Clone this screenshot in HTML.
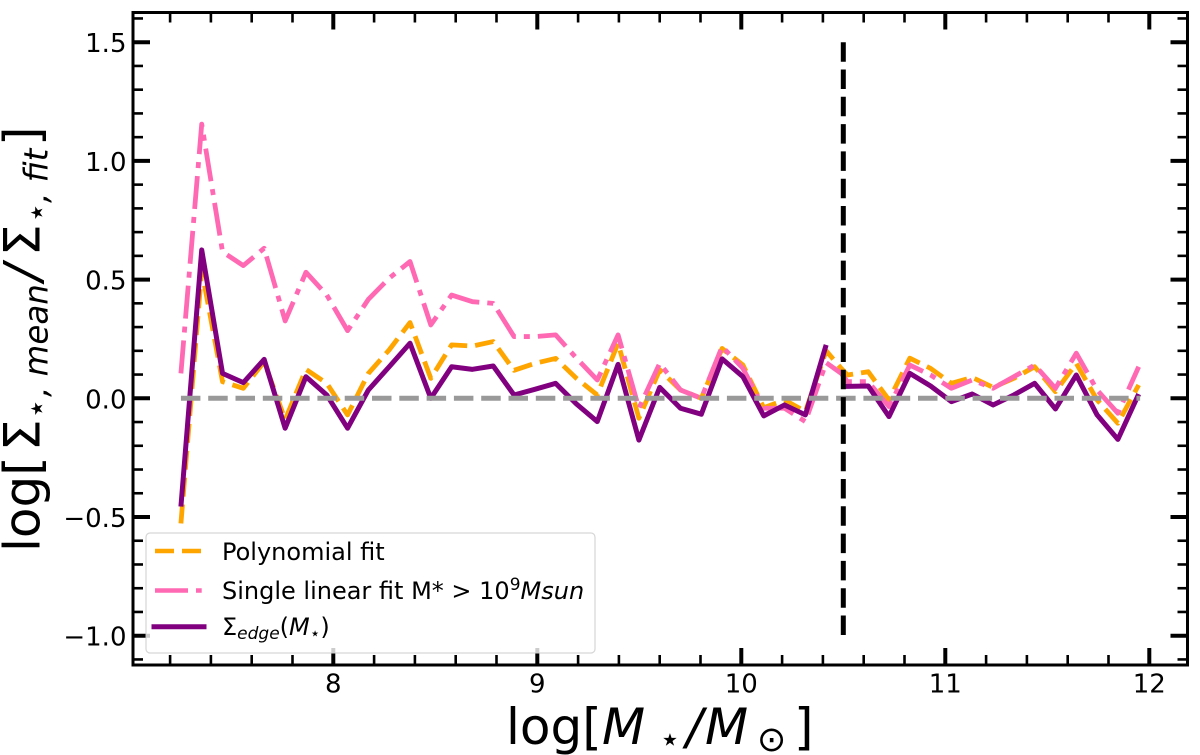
<!DOCTYPE html>
<html lang="en">
<head>
<meta charset="utf-8">
<title>Stellar surface density residuals</title>
<style>
html,body{margin:0;padding:0;background:#fff;width:1200px;height:755px;overflow:hidden}
svg{display:block}
text{font-family:"DejaVu Sans","Liberation Sans",sans-serif;fill:#000}
.it{font-style:italic}
</style>
</head>
<body>
<svg id="chart" xmlns="http://www.w3.org/2000/svg" width="1200" height="755" viewBox="0 0 1200 755">
  <g id="series-layer"></g>
  <g id="tick-layer"></g>
  <g id="tick-label-layer"></g>
  <rect x="133" y="12.5" width="1054.5" height="652.5" fill="none" stroke="#000" stroke-width="3"></rect>

  <text y="744" font-size="50"><tspan x="506">log[</tspan><tspan class="it" x="602">M</tspan><tspan x="659" y="751" font-size="35">⋆</tspan><tspan class="it" x="686" y="744">/</tspan><tspan class="it" x="705">M</tspan><tspan x="757" y="751" font-size="35">⊙</tspan><tspan x="794" y="744">]</tspan></text>

  <text transform="translate(39.5,552) rotate(-90)" font-size="50"><tspan x="0" y="0">log[</tspan><tspan x="101" y="0">Σ</tspan><tspan x="133" y="8" font-size="33">⋆</tspan><tspan class="it" x="155" y="8" font-size="32.5">, mean</tspan><tspan class="it" x="271" y="0">/</tspan><tspan x="296" y="0">Σ</tspan><tspan x="329" y="8" font-size="33">⋆</tspan><tspan class="it" x="349" y="8" font-size="32.5">, fit</tspan><tspan x="406" y="0">]</tspan></text>

  <g>
    <rect x="146" y="533" width="449" height="120" rx="4" ry="4" fill="#fff" fill-opacity="0.8" stroke="#ccc" stroke-opacity="0.8" stroke-width="1.2"></rect>
    <line x1="155" y1="551" x2="201.7" y2="551" stroke="#FFA500" stroke-width="4.6" stroke-dasharray="19 8"></line>
    <text x="222" y="560" font-size="24">Polynomial fit</text>
    <line x1="155" y1="590.5" x2="201.7" y2="590.5" stroke="#FF69B4" stroke-width="4.6" stroke-dasharray="33 8 6 8"></line>
    <text x="222" y="599" font-size="24">Single linear fit M* &gt; 10<tspan dy="-9" font-size="17">9</tspan><tspan class="it" dy="9">Msun</tspan></text>
    <line x1="154" y1="626.7" x2="204" y2="626.7" stroke="#800080" stroke-width="5" stroke-linecap="square"></line>
    <text x="222" y="635" font-size="24">Σ<tspan class="it" dy="4" font-size="17">edge</tspan><tspan dy="-4">(</tspan><tspan class="it">M</tspan><tspan dy="4" font-size="17">⋆</tspan><tspan dy="-4">)</tspan></text>
  </g>
</svg>
<script>
var massBins = [7.253,7.355,7.457,7.559,7.661,7.764,7.866,7.968,8.070,8.172,8.274,8.376,8.478,8.580,8.682,8.784,8.886,8.988,9.090,9.192,9.294,9.396,9.498,9.600,9.702,9.804,9.906,10.008,10.110,10.212,10.314,10.416,10.490,10.520,10.622,10.724,10.826,10.928,11.030,11.132,11.234,11.336,11.438,11.540,11.642,11.744,11.846,11.948];
var polynomialFit = [-0.527,0.54,0.07,0.042,0.154,-0.09,0.122,0.063,-0.07,0.105,0.204,0.319,0.084,0.225,0.22,0.239,0.118,0.147,0.168,0.084,0.014,0.232,-0.084,0.12,0.035,0,0.21,0.14,-0.04,-0.007,-0.056,0.2,0.126,0.098,0.112,-0.007,0.169,0.126,0.063,0.088,0.046,0.084,0.133,0.028,0.147,-0.007,-0.105,0.056];
var singleLinearFit = [0.105,1.155,0.617,0.559,0.632,0.326,0.531,0.435,0.285,0.417,0.506,0.576,0.309,0.435,0.407,0.4,0.26,0.26,0.267,0.169,0.077,0.267,-0.042,0.147,0.035,0,0.218,0.126,-0.042,-0.042,-0.098,0.15,0.105,0.07,0.07,-0.035,0.14,0.098,0.042,0.077,0.042,0.091,0.14,0.042,0.19,0.035,-0.063,0.133];
var sigmaEdge = [-0.456,0.625,0.105,0.066,0.164,-0.126,0.091,0.014,-0.126,0.035,0.133,0.232,0,0.133,0.122,0.136,0.014,0.038,0.063,-0.024,-0.098,0.143,-0.176,0.046,-0.042,-0.067,0.166,0.091,-0.074,-0.028,-0.07,0.225,null,0.05,0.052,-0.077,0.105,0.052,-0.014,0.018,-0.028,0.014,0.063,-0.045,0.098,-0.07,-0.173,0.018];
var sigmaEdgeRestart = [10.49, 0.05];
var referenceLevel = [7.253, 11.955, 0];
var cutoffLine = [10.5, -1, 1.5];
var xMajorTicks = [8,9,10,11,12];
var xMinorTicks = [7.2,7.4,7.6,7.8,8.2,8.4,8.6,8.8,9.2,9.4,9.6,9.8,10.2,10.4,10.6,10.8,11.2,11.4,11.6,11.8,12.2];
var yMajorTicks = [-1,-0.5,0,0.5,1,1.5];
var yMajorLabels = ['\u22121.0','\u22120.5','0.0','0.5','1.0','1.5'];
var yMinorTicks = [-1.1,-0.9,-0.8,-0.7,-0.6,-0.4,-0.3,-0.2,-0.1,0.1,0.2,0.3,0.4,0.6,0.7,0.8,0.9,1.1,1.2,1.3,1.4,1.6];

var NS = 'http://www.w3.org/2000/svg';
var LEFT = 133, RIGHT = 1187.5, TOP = 12.5, BOTTOM = 665;
function xScale(v) { return 333.3 + (v - 8) * 204; }
function yScale(v) { return 398.3 - v * 237.4; }

function polyline(xs, ys) {
  var pts = [];
  for (var i = 0; i < xs.length; i++) {
    if (ys[i] === null) continue;
    pts.push(xScale(xs[i]).toFixed(2) + ',' + yScale(ys[i]).toFixed(2));
  }
  return pts.join(' ');
}

var seriesLayer = document.getElementById('series-layer');
var tickLayer = document.getElementById('tick-layer');
var labelLayer = document.getElementById('tick-label-layer');

function styleLine(el, color, width, dash, cap) {
  el.setAttribute('fill', 'none');
  el.setAttribute('stroke', color);
  el.setAttribute('stroke-width', width);
  el.setAttribute('stroke-linejoin', 'round');
  if (dash) el.setAttribute('stroke-dasharray', dash);
  if (cap) el.setAttribute('stroke-linecap', cap);
}

var polyEl = document.createElementNS(NS, 'polyline');


polyEl.setAttribute('points', polyline(massBins, polynomialFit));
styleLine(polyEl, '#FFA500', 4.8, '19 8');
seriesLayer.appendChild(polyEl);

var singleEl = document.createElementNS(NS, 'polyline');


singleEl.setAttribute('points', polyline(massBins, singleLinearFit));
styleLine(singleEl, '#FF69B4', 4.8, '33 8 6 8');
seriesLayer.appendChild(singleEl);

var breakIndex = sigmaEdge.indexOf(null);
var edgeLow = document.createElementNS(NS, 'polyline');


edgeLow.setAttribute('points', polyline(massBins.slice(0, breakIndex), sigmaEdge.slice(0, breakIndex)));
styleLine(edgeLow, '#800080', 5);
seriesLayer.appendChild(edgeLow);

var edgeHigh = document.createElementNS(NS, 'polyline');


edgeHigh.setAttribute('points', polyline([sigmaEdgeRestart[0]].concat(massBins.slice(breakIndex + 1)), [sigmaEdgeRestart[1]].concat(sigmaEdge.slice(breakIndex + 1))));
styleLine(edgeHigh, '#800080', 5);
seriesLayer.appendChild(edgeHigh);

var refEl = document.createElementNS(NS, 'line');


refEl.setAttribute('x1', xScale(referenceLevel[0]));
refEl.setAttribute('x2', xScale(referenceLevel[1]));
refEl.setAttribute('y1', yScale(referenceLevel[2]));
refEl.setAttribute('y2', yScale(referenceLevel[2]));
styleLine(refEl, '#999999', 5, '19.5 7.8');
seriesLayer.appendChild(refEl);

var cutEl = document.createElementNS(NS, 'line');


cutEl.setAttribute('x1', xScale(cutoffLine[0]));
cutEl.setAttribute('x2', xScale(cutoffLine[0]));
cutEl.setAttribute('y1', yScale(cutoffLine[2]));
cutEl.setAttribute('y2', yScale(cutoffLine[1]));
styleLine(cutEl, '#000000', 5, '19.5 7.8');
seriesLayer.appendChild(cutEl);

function tick(x1, y1, x2, y2, w) {
  var t = document.createElementNS(NS, 'line');
  
  
  t.setAttribute('x1', x1);
  t.setAttribute('y1', y1);
  t.setAttribute('x2', x2);
  t.setAttribute('y2', y2);
  t.setAttribute('stroke', '#000');
  t.setAttribute('stroke-width', w);
  tickLayer.appendChild(t);
}
var MAJOR = 17, MINOR = 10;
xMajorTicks.forEach(function (v) {
  var x = xScale(v);
  tick(x, BOTTOM, x, BOTTOM - MAJOR, 4);
  tick(x, TOP, x, TOP + MAJOR, 4);
  var l = document.createElementNS(NS, 'text');
  
  
  l.setAttribute('x', x);
  l.setAttribute('y', 692.7);
  l.setAttribute('font-size', 26);
  l.setAttribute('text-anchor', 'middle');
  l.textContent = String(v);
  labelLayer.appendChild(l);
});
xMinorTicks.forEach(function (v) {
  var x = xScale(v);
  if (x < LEFT || x > RIGHT) return;
  tick(x, BOTTOM, x, BOTTOM - MINOR, 2.6);
  tick(x, TOP, x, TOP + MINOR, 2.6);
});
yMajorTicks.forEach(function (v, i) {
  var y = yScale(v);
  tick(LEFT, y, LEFT + MAJOR, y, 4);
  tick(RIGHT, y, RIGHT - MAJOR, y, 4);
  var l = document.createElementNS(NS, 'text');
  
  
  l.setAttribute('x', 126.5);
  l.setAttribute('y', y + 10);
  l.setAttribute('font-size', 26);
  l.setAttribute('text-anchor', 'end');
  l.textContent = yMajorLabels[i];
  labelLayer.appendChild(l);
});
yMinorTicks.forEach(function (v) {
  var y = yScale(v);
  tick(LEFT, y, LEFT + MINOR, y, 2.6);
  tick(RIGHT, y, RIGHT - MINOR, y, 2.6);
});
</script>
</body>
</html>
